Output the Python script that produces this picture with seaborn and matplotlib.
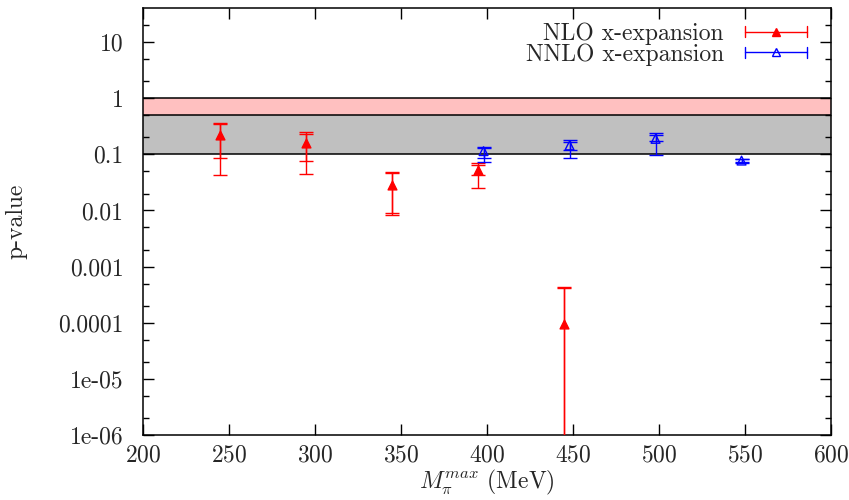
import numpy as np
import pandas as pd
import matplotlib
matplotlib.use("Agg")
import matplotlib.pyplot as plt
import seaborn as sns
from matplotlib.lines import Line2D
from matplotlib.legend_handler import HandlerBase
from matplotlib.ticker import FixedLocator, FixedFormatter, LogLocator, NullFormatter

# NLO x-expansion: value, inner (stat) and outer (total) error ranges
nlo_x = [245, 295, 345, 395, 445]
nlo_p = [0.22, 0.16, 0.029, 0.0535, 9.6e-5]
nlo_in_lo = [0.087, 0.077, 0.0089, 0.042, 1e-7]
nlo_in_hi = [0.347, 0.232, 0.047, 0.064, 4.2e-4]
nlo_out_lo = [0.042, 0.045, 0.0083, 0.0253, 1e-8]
nlo_out_hi = [0.369, 0.248, 0.048, 0.0705, 4.3e-4]

# NNLO x-expansion
nnlo_x = [398, 448, 498, 548]
nnlo_p = [0.114, 0.144, 0.189, 0.0775]
nnlo_in_lo = [0.085, 0.122, 0.174, 0.073]
nnlo_in_hi = [0.128, 0.164, 0.223, 0.082]
nnlo_out_lo = [0.072, 0.085, 0.098, 0.071]
nnlo_out_hi = [0.138, 0.178, 0.242, 0.084]

# acceptance bands
band_pink = (0.5, 1.0)
band_gray = (0.1, 0.5)

ytick_vals = [1e-6, 1e-5, 1e-4, 1e-3, 1e-2, 1e-1, 1, 10]
ytick_labels = ["1e-06", "1e-05", "0.0001", "0.001", "0.01", "0.1", "1", "10"]
xtick_vals = [200, 250, 300, 350, 400, 450, 500, 550, 600]

sns.set_style("ticks")
plt.rcParams["font.family"] = ["cmr10", "DejaVu Serif"]
plt.rcParams["mathtext.fontset"] = "cm"
plt.rcParams["axes.formatter.use_mathtext"] = True
plt.rcParams["font.size"] = 17


class ErrBarHandler(HandlerBase):
    """gnuplot style key sample: horizontal bar with end caps and a marker"""
    def __init__(self, color, face):
        super().__init__()
        self.color = color
        self.face = face

    def create_artists(self, legend, orig_handle, xdescent, ydescent,
                       width, height, fontsize, trans):
        y = height / 2 - ydescent
        h = height * 0.33
        arts = [
            Line2D([-xdescent, width - xdescent], [y, y], color=self.color, lw=1),
            Line2D([-xdescent, -xdescent], [y - h, y + h], color=self.color, lw=1),
            Line2D([width - xdescent, width - xdescent], [y - h, y + h], color=self.color, lw=1),
            Line2D([width / 2 - xdescent], [y], marker="^", ms=6, color=self.color,
                   markerfacecolor=self.face, markeredgewidth=1, lw=0),
        ]
        for a in arts:
            a.set_transform(trans)
        return arts


fig = plt.figure(figsize=(8.49, 5.0), dpi=100)
ax = fig.add_axes([143 / 849, 1 - 435 / 500, 688 / 849, 426.7 / 500])

ax.axhspan(*band_pink, facecolor="#ffc0c0", edgecolor="none", zorder=0)
ax.axhspan(*band_gray, facecolor="#c0c0c0", edgecolor="none", zorder=0)
for yv in [band_gray[0], band_gray[1], band_pink[1]]:
    ax.axhline(yv, color="black", lw=1.1, zorder=1)


def draw_series(x, p, in_lo, in_hi, out_lo, out_hi, color):
    x = np.array(x)
    p = np.array(p)
    for lo, hi in [(in_lo, in_hi), (out_lo, out_hi)]:
        err = [p - np.array(lo), np.array(hi) - p]
        ax.errorbar(x, p, yerr=err, fmt="none", ecolor=color, elinewidth=1,
                    capsize=4.7, capthick=1, zorder=3)


draw_series(nlo_x, nlo_p, nlo_in_lo, nlo_in_hi, nlo_out_lo, nlo_out_hi, "red")
draw_series(nnlo_x, nnlo_p, nnlo_in_lo, nnlo_in_hi, nnlo_out_lo, nnlo_out_hi, "blue")

df_nlo = pd.DataFrame({"x": nlo_x, "p": nlo_p})
df_nnlo = pd.DataFrame({"x": nnlo_x, "p": nnlo_p})
sns.scatterplot(data=df_nlo, x="x", y="p", marker="^", s=40, color="red",
                edgecolor="red", linewidth=1, ax=ax, zorder=4)
sns.scatterplot(data=df_nnlo, x="x", y="p", marker="^", s=40, facecolor="none",
                edgecolor="blue", linewidth=1, ax=ax, zorder=4)

ax.set_yscale("log")
ax.set_xlim(200, 600)
ax.set_ylim(1e-6, 40)
ax.yaxis.set_major_locator(FixedLocator(ytick_vals))
ax.yaxis.set_major_formatter(FixedFormatter(ytick_labels))
ax.yaxis.set_minor_locator(LogLocator(base=10, subs=(2, 5), numticks=20))
ax.yaxis.set_minor_formatter(NullFormatter())
ax.xaxis.set_major_locator(FixedLocator(xtick_vals))
ax.xaxis.set_minor_locator(FixedLocator([]))

ax.tick_params(which="both", direction="in", top=True, right=True, color="black")
ax.tick_params(which="major", length=8, width=1)
ax.tick_params(which="minor", length=4, width=1)
ax.tick_params(axis="y", pad=14, labelsize=17)
ax.tick_params(axis="x", pad=7, labelsize=17)
for s in ax.spines.values():
    s.set_visible(True)
    s.set_linewidth(1.1)
    s.set_color("black")

ax.set_xlabel(r"$M_\pi^{max}$ (MeV)", fontsize=17, labelpad=1)
ax.set_ylabel("p-value", fontsize=17)
ax.yaxis.set_label_coords(-0.168, 0.5)

h1 = Line2D([], [], color="red")
h2 = Line2D([], [], color="blue")
ax.legend([h1, h2], ["NLO x-expansion", "NNLO x-expansion"],
          handler_map={h1: ErrBarHandler("red", "red"), h2: ErrBarHandler("blue", "none")},
          loc="upper right", bbox_to_anchor=(0.985, 1.0), frameon=False,
          markerfirst=False, handlelength=2.6, handletextpad=0.9,
          labelspacing=-0.08, borderaxespad=0.2, fontsize=17)

fig.savefig("out.png", dpi=100)
